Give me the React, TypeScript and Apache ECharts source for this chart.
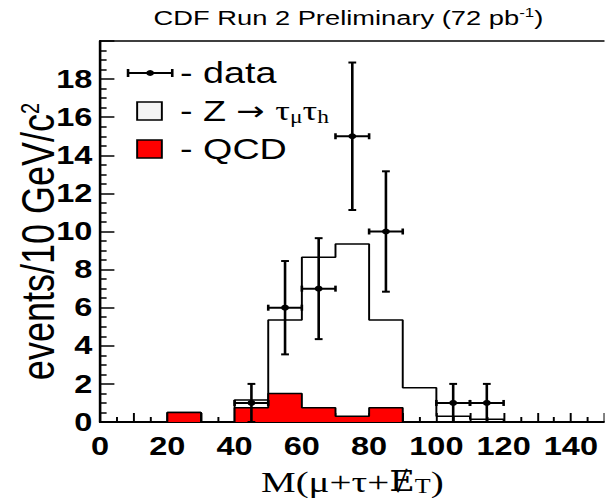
import React, { useEffect, useRef } from "react";
import * as echarts from "echarts";

// ---------- data ----------
const binStarts = [0, 10, 20, 30, 40, 50, 60, 70, 80, 90, 100, 110, 120, 130, 140];
const binLastEdge = 150;
// Z -> tau tau (stacked total, outline)
const zTauTau = [0, 0, 0.5, 0, 1.15, 5.35, 8.65, 9.35, 5.35, 1.8, 0.3, 0.15, 0, 0, 0];
// QCD background (red)
const qcd = [0, 0, 0.5, 0, 0.75, 1.5, 0.75, 0.3, 0.75, 0, 0, 0, 0, 0, 0];
// data points
const dataX = [45, 55, 65, 75, 85, 105, 115];
const dataY = [1, 6, 7, 15, 10, 1, 1];
const dataErr = [1, 2.45, 2.65, 3.87, 3.16, 1, 1];
const dataHalfBin = [5, 5, 5, 5, 5, 5, 5];
// tick labels
const xTickLabels = [0, 20, 40, 60, 80, 100, 120, 140];
const yTickLabels = [0, 2, 4, 6, 8, 10, 12, 14, 16, 18];

const STRETCH = 1.3;
const PAGE_W = 605;
const PAGE_H = 498;
const INNER_W = PAGE_W / STRETCH;

const stepData = (vals: number[]) => [
  ...binStarts.map((x, i) => [x, vals[i]]),
  [binLastEdge, 0],
];

export default function App() {
  const ref = useRef<HTMLDivElement>(null);
  useEffect(() => {
    if (!ref.current) return;
    const chart = echarts.init(ref.current, null, { renderer: "svg" });
    const sans = "Liberation Sans";
    const serif = "Liberation Serif";
    chart.setOption({
      animation: false,
      backgroundColor: "#fff",
      title: {
        text: "{a|CDF Run 2 Preliminary (72 pb}{s|-1}{a|)}",
        left: 268,
        top: 6,
        textAlign: "center",
        padding: 0,
        textStyle: {
          fontWeight: "normal",
          rich: {
            a: { fontFamily: sans, fontSize: 21, fontWeight: "normal", color: "#000" },
            s: { fontFamily: sans, fontSize: 13, fontWeight: "normal", color: "#000", padding: [0, 0, 10, 0] },
          },
        },
      },
      grid: { left: 77, right: 0, top: 41, bottom: 76, outerBoundsMode: "none", containLabel: false },
      xAxis: [
        {
          type: "value",
          min: 0,
          max: binLastEdge,
          interval: 10,
          axisLine: { show: true, onZero: false, lineStyle: { color: "#000", width: 2 } },
          axisTick: { show: true, inside: true, length: 9, lineStyle: { color: "#000", width: 1.5 } },
          minorTick: { show: true, splitNumber: 2, length: 5, lineStyle: { color: "#000", width: 1.5 } },
          splitLine: { show: false },
          axisLabel: {
            margin: 12,
            fontFamily: sans,
            fontWeight: "bold",
            fontSize: 25,
            color: "#000",
            formatter: (v: number) => (xTickLabels.includes(v) ? String(v) : ""),
          },
          name: "{a|M(μ+τ+}{e|Ɇ}{t|T}{a|)}",
          nameLocation: "middle",
          nameGap: 45,
          nameTextStyle: {
            rich: {
              a: { fontFamily: serif, fontSize: 30, color: "#000" },
              e: { fontFamily: "DejaVu Serif", fontSize: 27, color: "#000" },
              t: { fontFamily: serif, fontSize: 20, color: "#000", padding: [8, 0, 0, 0] },
            },
          },
        },
        {
          type: "value",
          position: "top",
          min: 0,
          max: binLastEdge,
          axisLine: { show: true, onZero: false, lineStyle: { color: "#000", width: 1.5 } },
          axisTick: { show: false },
          axisLabel: { show: false },
          splitLine: { show: false },
        },
      ],
      yAxis: {
        type: "value",
        min: 0,
        max: 20,
        interval: 2,
        axisLine: { show: true, lineStyle: { color: "#000", width: 2 } },
        axisTick: { show: true, inside: true, length: 11, lineStyle: { color: "#000", width: 1.5 } },
        minorTick: { show: true, splitNumber: 4, length: 5, lineStyle: { color: "#000", width: 1.5 } },
        splitLine: { show: false },
        axisLabel: {
          margin: 6,
          fontFamily: sans,
          fontWeight: "bold",
          fontSize: 25,
          color: "#000",
          formatter: (v: number) => (yTickLabels.includes(v) ? String(v) : ""),
        },
        name: "events/10 GeV/c{sup|2}",
        nameLocation: "middle",
        nameMoveOverlap: false,
        nameGap: 30,
        nameTextStyle: {
          fontFamily: sans,
          fontSize: 36,
          color: "#000",
          padding: [0, 20, 0, 0],
          rich: { sup: { fontFamily: sans, fontSize: 20, color: "#000", padding: [0, 0, 12, 0] } },
        },
      },
      series: [
        {
          name: "Z",
          type: "line",
          step: "end",
          data: stepData(zTauTau),
          showSymbol: false,
          lineStyle: { color: "#000", width: 1.5 },
          z: 2,
        },
        {
          name: "QCD",
          type: "line",
          step: "end",
          data: stepData(qcd),
          showSymbol: false,
          lineStyle: { color: "#000", width: 1.5 },
          areaStyle: { color: "#ff0000", opacity: 1 },
          z: 3,
        },
        {
          name: "data",
          type: "custom",
          z: 4,
          data: dataX.map((x, i) => [x, dataY[i], dataErr[i], dataHalfBin[i]]),
          encode: { x: 0, y: 1 },
          renderItem: (params: any, api: any) => {
            const x = api.value(0);
            const y = api.value(1);
            const e = api.value(2);
            const hw = api.value(3);
            const c = api.coord([x, y]);
            const top = api.coord([x, y + e]);
            const bot = api.coord([x, Math.max(0, y - e)]);
            const l = api.coord([x - hw, y]);
            const r = api.coord([x + hw, y]);
            const st = { stroke: "#000", lineWidth: 2 };
            const ln = (x1: number, y1: number, x2: number, y2: number) => ({
              type: "line",
              shape: { x1, y1, x2, y2 },
              style: st,
            });
            return {
              type: "group",
              children: [
                ln(c[0], top[1], c[0], bot[1]),
                ln(c[0] - 3, top[1], c[0] + 3, top[1]),
                ln(c[0] - 3, bot[1], c[0] + 3, bot[1]),
                ln(l[0], c[1], r[0], c[1]),
                ln(l[0], c[1] - 3, l[0], c[1] + 3),
                ln(r[0], c[1] - 3, r[0], c[1] + 3),
                { type: "circle", shape: { cx: c[0], cy: c[1], r: 3 }, style: { fill: "#000" } },
              ],
            };
          },
        },
      ],
      graphic: [
        // data legend icon
        { type: "line", shape: { x1: 98.5, y1: 73, x2: 132.5, y2: 73 }, style: { stroke: "#000", lineWidth: 2 } },
        { type: "line", shape: { x1: 98.5, y1: 69, x2: 98.5, y2: 77 }, style: { stroke: "#000", lineWidth: 2 } },
        { type: "line", shape: { x1: 132.5, y1: 69, x2: 132.5, y2: 77 }, style: { stroke: "#000", lineWidth: 2 } },
        { type: "circle", shape: { cx: 115.5, cy: 73, r: 3 }, style: { fill: "#000" } },
        {
          type: "text",
          x: 138.5,
          y: 73,
          style: { text: "- data", fontFamily: sans, fontSize: 29, fill: "#000", verticalAlign: "middle" },
        },
        // Z legend box
        {
          type: "rect",
          shape: { x: 105.5, y: 102, width: 19, height: 18 },
          style: { fill: "#f4f4f4", stroke: "#000", lineWidth: 1.5 },
        },
        {
          type: "text",
          x: 138.5,
          y: 111,
          style: {
            text: "- Z {ar|→} {g|τ}{s|μ}{g|τ}{s|h}",
            fontFamily: sans,
            fontSize: 29,
            fill: "#000",
            verticalAlign: "middle",
            rich: {
              ar: { fontFamily: "DejaVu Sans", fontSize: 26, fill: "#000" },
              g: { fontFamily: serif, fontSize: 28, fill: "#000" },
              s: { fontFamily: serif, fontSize: 18, fill: "#000", padding: [12, 0, 0, 0] },
            },
          },
        },
        // QCD legend box
        {
          type: "rect",
          shape: { x: 105.5, y: 140, width: 19, height: 18 },
          style: { fill: "#ff0000", stroke: "#000", lineWidth: 1.5 },
        },
        {
          type: "text",
          x: 138.5,
          y: 149,
          style: { text: "- QCD", fontFamily: sans, fontSize: 29, fill: "#000", verticalAlign: "middle" },
        },
      ],
    });
    return () => chart.dispose();
  }, []);
  return (
    <div
      style={{
        position: "fixed",
        left: 0,
        top: 0,
        width: PAGE_W,
        height: PAGE_H,
        overflow: "hidden",
        background: "#fff",
      }}
    >
      <div
        ref={ref}
        style={{
          width: INNER_W,
          height: PAGE_H,
          transform: `scaleX(${STRETCH})`,
          transformOrigin: "0 0",
        }}
      />
    </div>
  );
}
